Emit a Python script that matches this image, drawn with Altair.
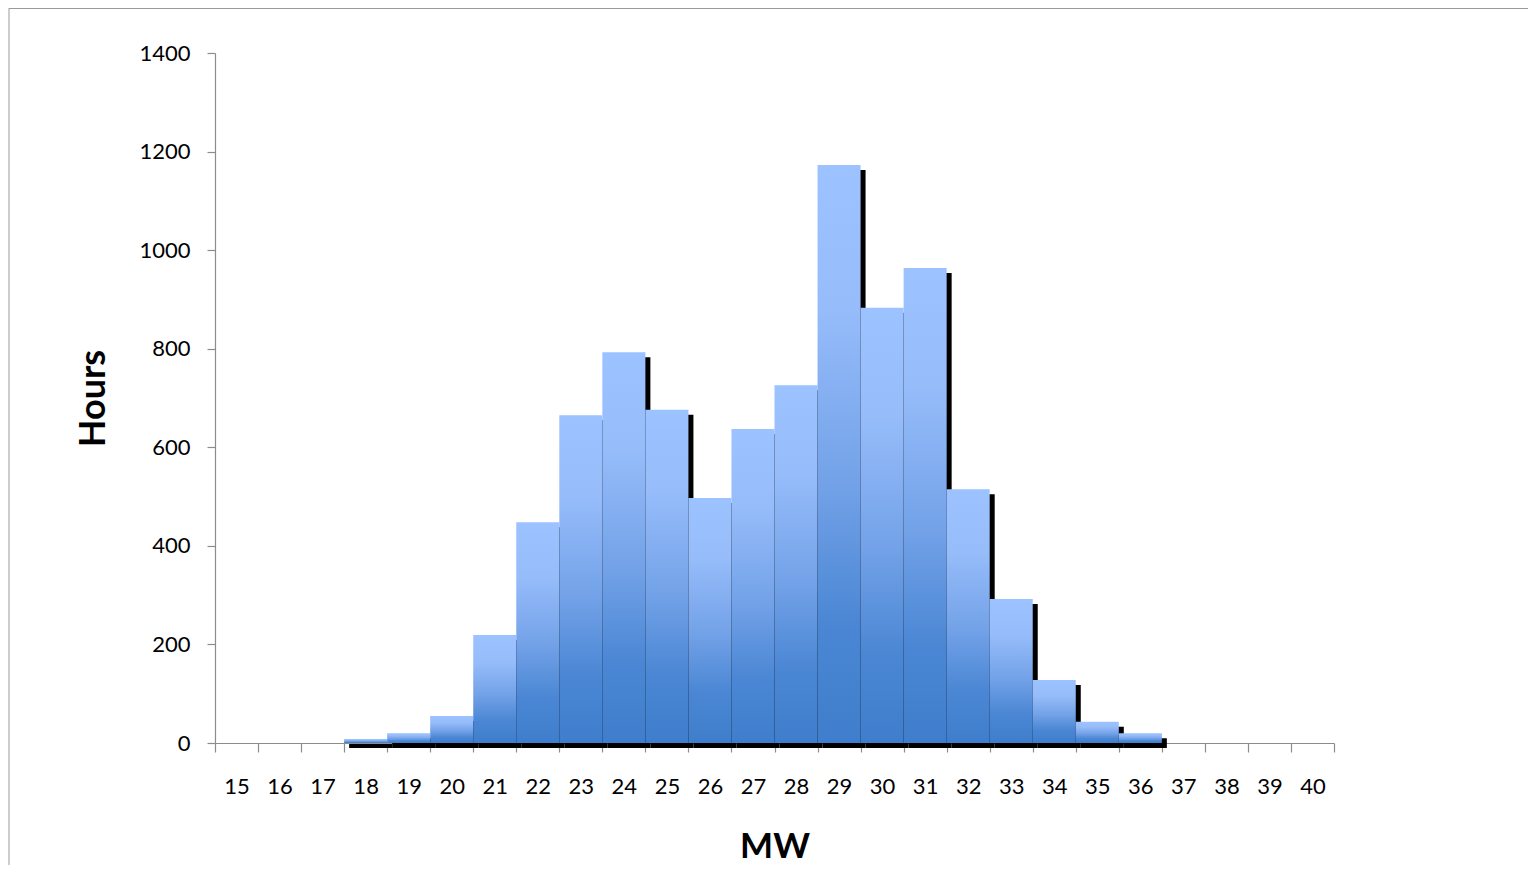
import altair as alt
import pandas as pd

# Category axis (MW bins) and histogram values (hours)
mw_categories = ["15", "16", "17", "18", "19", "20", "21", "22", "23", "24", "25", "26", "27",
                 "28", "29", "30", "31", "32", "33", "34", "35", "36", "37", "38", "39", "40"]
bar_mw = ["18", "19", "20", "21", "22", "23", "24", "25", "26", "27", "28",
          "29", "30", "31", "32", "33", "34", "35", "36"]
hours = [8, 20, 55, 219, 448, 665, 793, 676, 497, 637, 726,
         1173, 883, 964, 515, 292, 128, 43, 20]
y_ticks = [0, 200, 400, 600, 800, 1000, 1200, 1400]

df = pd.DataFrame({"mw": bar_mw, "hours": hours})

W, H = 1119, 690
AXIS_GRAY = "#8c8c8c"
FONT = "Lato"

x_enc = alt.X(
    "mw:O",
    scale=alt.Scale(domain=mw_categories, paddingInner=0, paddingOuter=0),
    axis=alt.Axis(
        title="MW", labelAngle=0, tickBand="extent", tickSize=9,
        labelBaseline="middle", labelPadding=34, labelFontSize=22,
        titleFontSize=35, titleFontWeight="bold", titleX=W / 2, titleY=103,
        titleBaseline="middle", titleAlign="center",
    ),
)
y_enc = alt.Y(
    "hours:Q",
    scale=alt.Scale(domain=[0, 1400], nice=False),
    axis=alt.Axis(
        title="Hours", values=y_ticks, format="d", tickSize=8, labelPadding=17,
        labelFontSize=22, titleFontSize=36, titleFontWeight="bold", titleX=-122,
        titleY=H / 2, titleAngle=270, titleAlign="center", titleBaseline="middle",
        grid=False,
    ),
)

shadow = alt.Chart(df).mark_bar(
    color="black", xOffset=5, x2Offset=5, yOffset=5, y2Offset=4
).encode(x=x_enc, y=y_enc)

gradient = alt.Gradient(
    gradient="linear",
    stops=[
        alt.GradientStop(color="#9cc2ff", offset=0),
        alt.GradientStop(color="#96bcfa", offset=0.25),
        alt.GradientStop(color="#73a2e8", offset=0.55),
        alt.GradientStop(color="#4a86d3", offset=0.8),
        alt.GradientStop(color="#3f7ecc", offset=1),
    ],
    x1=0, x2=0, y1=0, y2=1,
)
bars = alt.Chart(df).mark_bar(color=gradient).encode(x=x_enc, y=y_enc)

frame_df = pd.DataFrame({"k": [0]})
left_border = alt.Chart(frame_df).mark_rule(color="#9a9a9a", strokeWidth=1).encode(
    x=alt.value(-206), y=alt.value(-45), y2=alt.value(830)
)
top_border = alt.Chart(frame_df).mark_rule(color="#9a9a9a", strokeWidth=1).encode(
    x=alt.value(-206), x2=alt.value(1330), y=alt.value(-44.5)
)

chart = alt.layer(shadow, bars, left_border, top_border).properties(
    width=W, height=H,
    autosize=alt.AutoSizeParams(type="none"),
    padding={"left": 207, "top": 45, "right": 194, "bottom": 122},
).configure_view(stroke=None).configure_axis(
    domainColor=AXIS_GRAY, tickColor=AXIS_GRAY, labelColor="black",
    titleColor="black", labelFont=FONT, titleFont=FONT, domainWidth=1.2, tickWidth=1.2,
)

chart.save("out.html", embed_options={"renderer": "svg", "actions": False})
